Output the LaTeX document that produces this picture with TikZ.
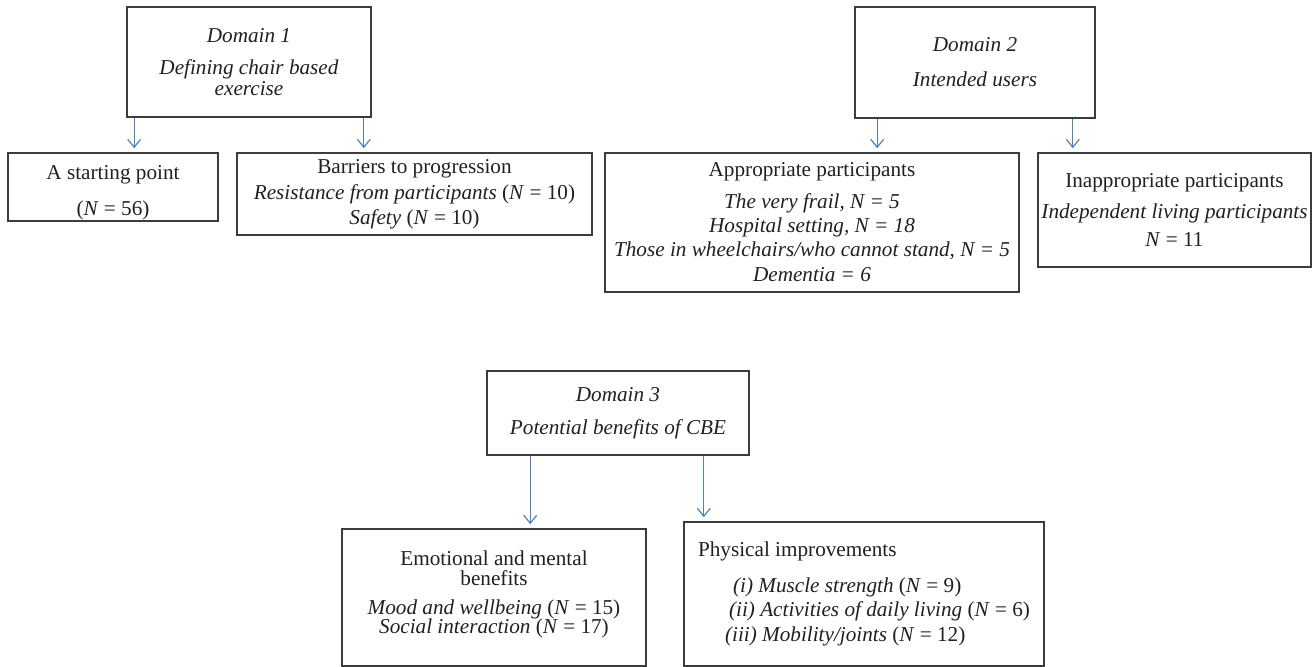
\documentclass[tikz,border=0pt]{standalone}
\usepackage{fontspec}
\setmainfont{Liberation Serif}
\usetikzlibrary{positioning}
\usetikzlibrary{arrows.meta}
\definecolor{linkblue}{RGB}{79,129,189}
\definecolor{boxgray}{RGB}{60,60,60}
\definecolor{textgray}{RGB}{35,31,32}

\begin{document}
\begin{tikzpicture}[x=0.5pt, y=-0.5pt,
    box/.style={draw=boxgray, line width=0.8pt, inner sep=0pt, align=center, text=textgray,
        font=\fontsize{10.6}{10}\selectfont},
    link/.style={draw=linkblue, line width=0.6pt, -{Straight Barb[length=4pt, width=6.5pt]}, shorten >=2pt}]
    \useasboundingbox (0,0) rectangle (1312,667);

    % Domain 1
    \node[box, minimum width=122pt, minimum height=55pt] (dom1) at (249,62)
        {\textit{Domain 1}\\[6pt]\textit{Defining chair based}\\[0.5pt]\textit{exercise}};
    \node[box, minimum width=105pt, minimum height=34pt] (start) at (113,187)
        {\rule{0pt}{12.3pt}A starting point\\[8pt](\textit{N} = 56)};
    \node[box, minimum width=177.5pt, minimum height=41pt] (barr) at (414.5,194)
        {Barriers to progression\\[3pt]\textit{Resistance from participants} (\textit{N} = 10)\\[2.5pt]\textit{Safety} (\textit{N} = 10)};

    % Domain 2
    \node[box, minimum width=120pt, minimum height=55.5pt] (dom2) at (975,62.5)
        {\textit{Domain 2}\\[7.5pt]\textit{Intended users}};
    \node[box, minimum width=207pt, minimum height=69.5pt] (appr) at (812,222.5)
        {Appropriate participants\\[6pt]\textit{The very frail, N = 5}\\[2pt]\textit{Hospital setting, N = 18}\\[2pt]\textit{Those in wheelchairs/who cannot stand, N = 5}\\[2.5pt]\textit{Dementia = 6}};
    \node[box, minimum width=136.5pt, minimum height=57pt] (inappr) at (1174.5,210)
        {Inappropriate participants\\[5.5pt]\textit{Independent living participants}\\[4pt]\textit{N} = 11};

    % Domain 3
    \node[box, minimum width=131pt, minimum height=42pt] (dom3) at (618,413)
        {\textit{Domain 3}\\[6.5pt]\textit{Potential benefits of CBE}};
    \node[box, minimum width=152pt, minimum height=68.5pt] (emo) at (494,597.5)
        {Emotional and mental\\benefits\\[4.5pt]\textit{Mood and wellbeing} (\textit{N} = 15)\\[-0.5pt]\textit{Social interaction} (\textit{N} = 17)\rule[-5pt]{0pt}{0pt}};
    \node[box, align=left, minimum width=180pt, minimum height=72pt] (phys) at (864,594)
        {Physical improvements\\[8pt]\hspace*{17.5pt}\textit{(i) Muscle strength} (\textit{N} = 9)\\[2pt]\hspace*{15.5pt}\textit{(ii) Activities of daily living} (\textit{N} = 6)\\[2.5pt]\hspace*{13.5pt}\textit{(iii) Mobility/joints} (\textit{N} = 12)};

    % arrow roots on the domain boxes
    \coordinate (d1a) at ([xshift=4pt]dom1.south west);
    \coordinate (d1b) at ([xshift=-4pt]dom1.south east);
    \coordinate (d2a) at ([xshift=11.5pt]dom2.south west);
    \coordinate (d2b) at ([xshift=-11.5pt]dom2.south east);
    \coordinate (d3a) at ([xshift=22pt]dom3.south west);
    \coordinate (d3b) at ([xshift=-23pt]dom3.south east);

    \draw[link] (d1a) -- (d1a |- start.north);
    \draw[link] (d1b) -- (d1b |- barr.north);
    \draw[link] (d2a) -- (d2a |- appr.north);
    \draw[link] (d2b) -- (d2b |- inappr.north);
    \draw[link] (d3a) -- (d3a |- emo.north);
    \draw[link] (d3b) -- (d3b |- phys.north);
\end{tikzpicture}
\end{document}
